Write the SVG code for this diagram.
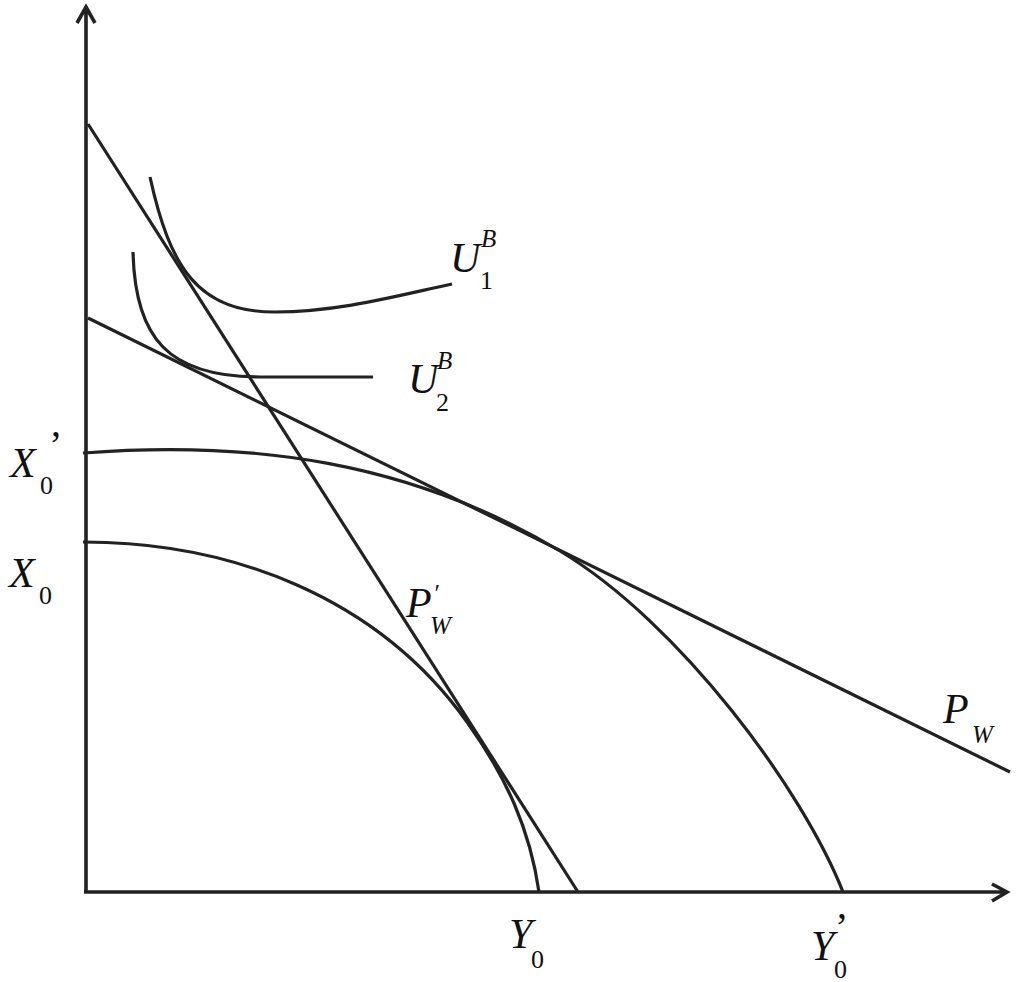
<svg xmlns="http://www.w3.org/2000/svg" width="1016" height="982" viewBox="0 0 1016 982">
<style>
.ln{fill:none;stroke:#222;stroke-width:3.2;stroke-linecap:butt}
.ax{fill:none;stroke:#222;stroke-width:3.6}
.t{font-family:"Liberation Serif","Times New Roman",serif;font-style:italic;font-size:42px;fill:#111}
.s{font-family:"Liberation Serif","Times New Roman",serif;font-size:26px;fill:#111}
.si{font-family:"Liberation Serif","Times New Roman",serif;font-style:italic;font-size:25px;fill:#111}
.p{font-family:"Liberation Serif","Times New Roman",serif;font-size:40px;fill:#111}
</style>
<rect width="1016" height="982" fill="#fff"/>
<g id="axes">
<path class="ax" d="M86,893 V6 M77,23 L86,7 L95,23"/>
<path class="ax" d="M84,892 H1006 M992,884 L1007,892 L992,901"/>
</g>
<g id="connectors">
<path id="PWprime-line" class="ln" d="M88,124 L578,892"/>
<path id="PW-line" class="ln" d="M88,318 L1010,772"/>
</g>
<g id="ppf-small">
<path class="ln" d="M83,542 C230,542 377,596 467,722 C507,778 530,830 539,892"/>
</g>
<g id="ppf-large">
<path class="ln" d="M83,453 C250,440 410,461 560,551 C680,623 803,790 843,892"/>
</g>
<g id="U1">
<path class="ln" d="M150,177 C170,268 198,312 275,312 C340,312 400,295 452,284"/>
</g>
<g id="U2">
<path class="ln" d="M133,252 C135,338 168,377 260,377 L373,377"/>
</g>
<g id="labels">
<text class="t" x="450" y="272">U</text><text class="si" x="481" y="247">B</text><text class="s" x="480" y="289">1</text>
<text class="t" x="408" y="393">U</text><text class="si" x="437" y="369">B</text><text class="s" x="436" y="411">2</text>
<text class="t" x="10" y="477">X</text><text class="p" x="49" y="458">’</text><text class="s" x="40" y="494">0</text>
<text class="t" x="9" y="587">X</text><text class="s" x="39" y="604">0</text>
<text class="t" x="406" y="617">P</text><text class="si" x="433" y="602" font-size="36">′</text><text class="si" x="430" y="634">W</text>
<text class="t" x="943" y="723">P</text><text class="si" x="972" y="743">W</text>
<text class="t" x="509" y="948">Y</text><text class="s" x="531" y="968">0</text>
<text class="t" x="811" y="960">Y</text><text class="p" x="835" y="940">’</text><text class="s" x="834" y="978">0</text>
</g>
</svg>
